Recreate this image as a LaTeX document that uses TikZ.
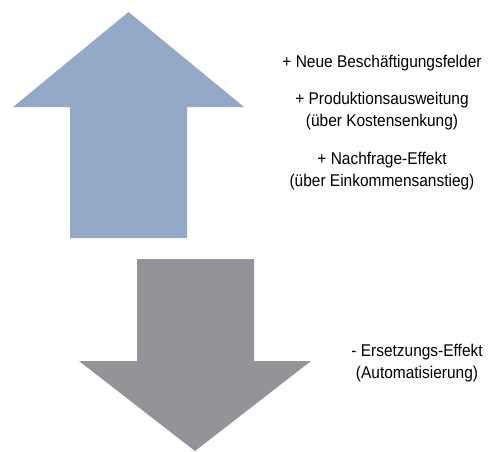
\documentclass[tikz,border=0pt]{standalone}
\usepackage{fontspec}
\setmainfont[FakeStretch=0.91]{Liberation Sans}
\definecolor{upblue}{HTML}{94A8C8}
\definecolor{downgray}{HTML}{939497}
\begin{document}
\begin{tikzpicture}
            [x=1pt,y=-1pt,every node/.style={anchor=base,inner sep=0pt,font=\fontsize{17}{21}\selectfont}]
            \useasboundingbox (0, 0) rectangle (489, 451);
            % up arrow
            \fill[upblue] (128.5, 12) -- (244, 107) -- (187, 107) -- (187, 238) -- (70, 238) -- (70, 107) -- (13, 107) -- cycle;
            % down arrow
            \fill[downgray] (137, 259) -- (254, 259) -- (254, 361) -- (311, 361) -- (195, 451) -- (79, 361) -- (137, 361) -- cycle;
            \node (neue) at (382, 67) {+ Neue Besch\"aftigungsfelder};
            \node (prod) at (382, 104) {+ Produktionsausweitung};
            \node (kosten) at (382, 126) {(\"uber Kostensenkung)};
            \node (nachfrage) at (382, 164) {+ Nachfrage-Effekt};
            \node (einkommen) at (382, 186) {(\"uber Einkommensanstieg)};
            \node (ersetz) at (417, 356) {- Ersetzungs-Effekt};
            \node (autom) at (417, 378) {(Automatisierung)};
        \end{tikzpicture}
\end{document}
